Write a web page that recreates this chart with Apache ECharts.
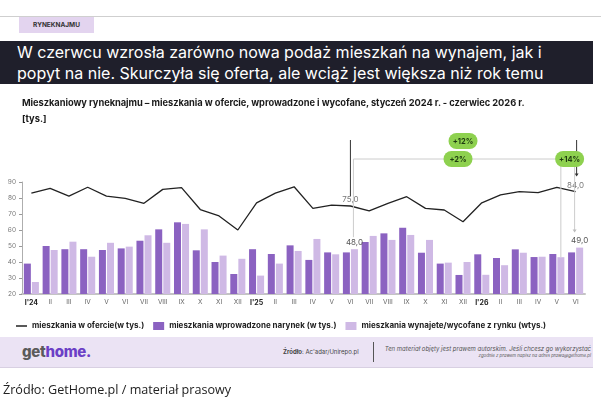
<!DOCTYPE html>
<html lang="pl">
<head>
<meta charset="UTF-8">
<title>Rynek najmu</title>
<script src="https://cdn.jsdelivr.net/npm/echarts@6/dist/echarts.min.js"></script>
<style>
  body { margin: 0; background: #fff; }
  #page { position: relative; width: 601px; height: 400px; overflow: hidden; font-family: Inter, "Noto Sans", sans-serif; }
  #main { position: absolute; left: 0; top: 0; width: 601px; height: 400px; }
  .topline { position: absolute; left: 0; top: 16px; width: 601px; height: 1px; background: #cfcfcf; }
  .tag { position: absolute; left: 19px; top: 17px; width: 75px; height: 16px; background: #e3d4ef;
         font-size: 6.5px; font-weight: 700; color: #333; line-height: 16px; text-align: center; }
  .banner { position: absolute; left: 0; top: 41px; width: 593px; height: 43px; background: #1f1f2b;
            color: #fff; font-size: 16px; line-height: 21px; padding-left: 17px; box-sizing: border-box; padding-top: 1px; }
  .subtitle { position: absolute; left: 22px; top: 97px; font-size: 9.3px; font-weight: 700; color: #1a1a1a; letter-spacing: -0.05px; }
  .unit { position: absolute; left: 22px; top: 113px; font-size: 9.3px; font-weight: 700; color: #1a1a1a; }
  .footer { position: absolute; left: 0; top: 337px; width: 593px; height: 30px; background: #ebe3f4;
            border-bottom: 1px solid #d8d0e2; }
  .logo { position: absolute; left: 22px; top: 5px; font-size: 15px; font-weight: 800; color: #5a5a5a; letter-spacing: -0.3px; }
  .logo span { color: #6b3fc6; }
  .src { position: absolute; left: 283px; top: 11px; font-size: 6px; color: #444; }
  .sep { position: absolute; left: 373px; top: 5px; width: 1px; height: 20px; background: #555; }
  .copy1 { position: absolute; right: 2px; top: 8px; font-size: 6px; font-style: italic; color: #555; }
  .copy2 { position: absolute; right: 2px; top: 16px; font-size: 4.3px; font-style: italic; color: #555; }
  .credit { position: absolute; left: 3px; top: 381px; font-family: "Open Sans", sans-serif; font-size: 12.6px; color: #222; }
</style>
</head>
<body>
<div id="page">
  <div id="main"></div>
  <div class="topline"></div>
  <div class="tag">RYNEKNAJMU</div>
  <div class="banner">W czerwcu wzrosła zarówno nowa podaż mieszkań na wynajem, jak i<br>popyt na nie. Skurczyła się oferta, ale wciąż jest większa niż rok temu</div>
  <div class="subtitle">Mieszkaniowy ryneknajmu – mieszkania w ofercie, wprowadzone i wycofane, styczeń 2024 r. - czerwiec 2026 r.</div>
  <div class="unit">[tys.]</div>
  <div class="footer">
    <div class="logo">get<span>home.</span></div>
    <div class="src"><b>Źródło</b>: Ac'adar/Unirepo.pl</div>
    <div class="sep"></div>
    <div class="copy1">Ten materiał objęty jest prawem autorskim. Jeśli chcesz go wykorzystać</div>
    <div class="copy2">zgodnie z prawem napisz na adres prawa@gethome.pl</div>
  </div>
  <div class="credit">Źródło: GetHome.pl / materiał prasowy</div>
</div>

<script>
  // dane (tys.)
  const months = ["I'24", "II", "III", "IV", "V", "VI", "VII", "VIII", "IX", "X", "XI", "XII",
                  "I'25", "II", "III", "IV", "V", "VI", "VII", "VIII", "IX", "X", "XI", "XII",
                  "I'26", "II", "III", "IV", "V", "VI"];
  const offer = [83, 86, 81.2, 86.7, 81.2, 79.8, 76.7, 85.4, 86.5, 72.8, 68.8, 60,
                 77, 83, 87, 73.5, 75.6, 75, 71.9, 76.7, 80.8, 73.5, 72.5, 65.2,
                 77, 81.9, 84, 83.3, 86.7, 84];
  const introduced = [39, 50, 48, 48, 47.5, 48.5, 53.3, 60.4, 64.8, 47.3, 40, 32.5,
                      48, 45, 50.4, 41.3, 46, 46, 52.5, 57.9, 61.4, 45.8, 39, 31.9,
                      44.8, 42.5, 47.9, 43.1, 45, 46];
  const withdrawn = [27.5, 47.5, 52.7, 43.3, 52, 49.6, 56.7, 52, 63.8, 60.4, 44, 42,
                     31.5, 39, 46.9, 54.4, 44.8, 48, 56.3, 53.8, 56.9, 53.8, 39.6, 40,
                     32, 38, 45.8, 43.3, 43, 49];
  const yTicks = [20, 30, 40, 50, 60, 70, 80, 90];
  const marked = [17, 29];

  const names = ["mieszkania w ofercie(w tys.)", "mieszkania wprowadzone narynek (w tys.)",
                 "mieszkania wynajete/wycofane z rynku (wtys.)"];

  const fmt = v => v.toFixed(1).replace('.', ',');

  const chart = echarts.init(document.getElementById('main'));

  const option = {
    animation: false,
    grid: { left: 22, right: 16, top: 182, bottom: 106 },
    legend: {
      left: 11, top: 317,
      itemWidth: 11, itemHeight: 8, itemGap: 9, symbolKeepAspect: true,
      textStyle: { fontSize: 8, fontWeight: 700, color: '#222', fontFamily: 'Inter' },
      data: [
        { name: names[0], icon: 'path://M0,0H22V3H0Z' },
        { name: names[1], icon: 'rect' },
        { name: names[2], icon: 'rect' }
      ]
    },
    xAxis: {
      type: 'category',
      data: months,
      axisLine: { lineStyle: { color: '#c4c4c4', width: 2 } },
      axisTick: { show: false },
      axisLabel: {
        interval: 0, fontSize: 6.5, color: '#666', margin: 5, fontFamily: 'Inter',
        formatter: v => v.indexOf("'") > 0 ? '{b|' + v + '}' : v,
        rich: { b: { fontWeight: 700, color: '#222', fontSize: 7 } }
      }
    },
    yAxis: {
      type: 'value',
      min: yTicks[0], max: yTicks[yTicks.length - 1], interval: 10,
      axisLine: { show: true, lineStyle: { color: '#999', width: 0.8 } },
      axisTick: { show: true, length: 3, lineStyle: { color: '#999' } },
      splitLine: { show: false },
      axisLabel: { fontSize: 6.5, color: '#777', margin: 6, fontFamily: 'Inter' }
    },
    series: [
      {
        name: names[0], type: 'line', data: offer,
        symbol: 'none', z: 5,
        lineStyle: { color: '#222', width: 1.3 },
        itemStyle: { color: '#222' }
      },
      {
        name: names[1], type: 'bar', data: introduced,
        barWidth: 7, barGap: '15%',
        itemStyle: { color: '#8b62c1' }
      },
      {
        name: names[2], type: 'bar', data: withdrawn.map((v, i) => marked.includes(i)
          ? { value: v, label: { show: true, position: 'top', distance: 3, formatter: p => fmt(p.value) } }
          : v),
        barWidth: 7,
        itemStyle: { color: '#cfb9e5' },
        label: { fontSize: 8, color: '#555', fontFamily: 'Inter' }
      },
      {
        // etykiety 75,0 i 84,0 na linii oferty
        name: 'etykiety', type: 'scatter', symbolSize: 0, z: 6,
        data: marked.map(i => [i, offer[i]]),
        label: {
          show: true, position: 'top', distance: 2, fontSize: 8, color: '#555', fontFamily: 'Inter',
          formatter: p => fmt(p.value[1])
        }
      }
    ]
  };
  chart.setOption(option);

  // adnotacje (+12%, +2%, +14%) liczone ze skali wykresu
  const px = (i, v) => chart.convertToPixel({ xAxisIndex: 0, yAxisIndex: 0 }, [i, v]);
  const a = px(17, offer[17]), b = px(29, offer[29]);
  const aBar = px(17, withdrawn[17]), bBar = px(29, withdrawn[29]), cBar = px(28, withdrawn[28]);
  const topY = 140, bracketY = 159;
  const dark = { stroke: '#333', lineWidth: 1 };
  const grey = { stroke: '#ccc', lineWidth: 1 };

  function pill(x, y, text) {
    return {
      type: 'group', x: x, y: y, z: 30,
      children: [
        { type: 'rect', z: 30, shape: { x: -14.5, y: -8, width: 29, height: 16, r: 8 }, style: { fill: '#8ed14f' } },
        { type: 'text', z: 31, style: { text: text, x: 0, y: 0.5, align: 'center', verticalAlign: 'middle',
            fontSize: 7.5, fontWeight: 700, fill: '#1e3a10', fontFamily: 'Inter' } }
      ]
    };
  }
  function arrow(x, y, color) {
    return { type: 'polygon', z: 10, shape: { points: [[x - 2, y - 3], [x + 2, y - 3], [x, y]] }, style: { fill: color } };
  }

  chart.setOption({
    graphic: [
      { type: 'line', z: 10, shape: { x1: a[0], y1: topY, x2: a[0], y2: a[1] - 10 }, style: dark },
      { type: 'line', z: 10, shape: { x1: a[0] + 3, y1: bracketY, x2: bBar[0] - 1, y2: bracketY }, style: grey },
      { type: 'line', z: 10, shape: { x1: a[0] + 3, y1: bracketY, x2: a[0] + 3, y2: aBar[1] - 12 }, style: grey },
      { type: 'line', z: 10, shape: { x1: b[0] + 1, y1: topY, x2: b[0] + 1, y2: b[1] - 17 }, style: dark },
      arrow(b[0] + 1, b[1] - 15, '#333'),
      { type: 'line', z: 10, shape: { x1: bBar[0] - 1, y1: bracketY, x2: bBar[0] - 1, y2: bBar[1] - 17 }, style: grey },
      arrow(bBar[0] - 1, bBar[1] - 15, '#bbb'),
      { type: 'line', z: 10, shape: { x1: cBar[0] + 4, y1: bracketY, x2: cBar[0] + 4, y2: cBar[1] }, style: grey },
      pill((a[0] + b[0]) / 2, topY + 1, '+12%'),
      pill((a[0] + b[0]) / 2 - 5, bracketY, '+2%'),
      pill(b[0] - 6, bracketY, '+14%')
    ]
  });
</script>
</body>
</html>
